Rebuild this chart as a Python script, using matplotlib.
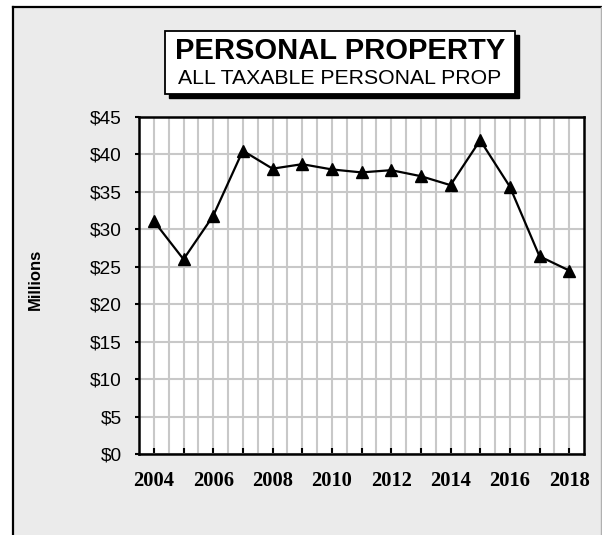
import matplotlib
matplotlib.use("Agg")
import matplotlib.pyplot as plt
from matplotlib.patches import Rectangle
from matplotlib.ticker import MultipleLocator, FuncFormatter

# données (millions de $)
years = [2004, 2005, 2006, 2007, 2008, 2009, 2010, 2011,
         2012, 2013, 2014, 2015, 2016, 2017, 2018]
values = [31.1, 26.0, 31.8, 40.5, 38.1, 38.7, 38.0, 37.6,
          37.9, 37.1, 35.9, 41.9, 35.7, 26.4, 24.5]
year_labels = [2004, 2006, 2008, 2010, 2012, 2014, 2016, 2018]

W, H = 602, 535
fig = plt.figure(figsize=(W / 100, H / 100), dpi=100)
fig.patch.set_facecolor('white')

# panneau gris avec bordure
fig.patches.append(Rectangle((12 / W, -0.01), (601 - 12) / W, 1 - 7 / H + 0.01,
                             transform=fig.transFigure, facecolor='#EBEBEB',
                             edgecolor='none', zorder=-2))
fig.lines.append(plt.Line2D([12.5 / W, 12.5 / W], [0, 1 - 7 / H], transform=fig.transFigure,
                            color='black', linewidth=1.6, zorder=-1))
fig.lines.append(plt.Line2D([12.5 / W, 601 / W], [1 - 7 / H, 1 - 7 / H], transform=fig.transFigure,
                            color='black', linewidth=1.6, zorder=-1))
fig.lines.append(plt.Line2D([601 / W, 601 / W], [0, 1 - 7 / H], transform=fig.transFigure,
                            color='#B0B0B0', linewidth=1, zorder=-1))

ax = fig.add_axes([139 / W, 1 - 454 / H, (584 - 139) / W, (454 - 117) / H])
ax.set_facecolor('white')

ax.plot(years, values, color='black', linewidth=1.6, marker='^',
        markersize=9, markerfacecolor='black', markeredgecolor='black',
        zorder=3, clip_on=False)

ax.set_xlim(2003.5, 2018.5)
ax.set_ylim(0, 45)
ax.yaxis.set_major_locator(MultipleLocator(5))
ax.yaxis.set_major_formatter(FuncFormatter(lambda v, p: f'${v:.0f}'))
ax.set_xticks(years)
ax.set_xticks([y + 0.5 for y in years[:-1]], minor=True)
ax.set_xticklabels([str(y) if y in year_labels else '' for y in years],
                   fontfamily='Liberation Serif', fontweight='bold', fontsize=14.8)
for lab in ax.get_yticklabels():
    lab.set_fontfamily('Liberation Sans')
    lab.set_fontsize(13.8)

ax.grid(True, which='both', axis='x', color='#C8C8C8', linewidth=1.5)
ax.grid(True, which='major', axis='y', color='#C8C8C8', linewidth=1.5)
ax.set_axisbelow(True)
ax.tick_params(axis='x', which='major', direction='in', length=4, width=1.5, pad=12)
ax.tick_params(axis='x', which='minor', length=0)
ax.tick_params(axis='y', direction='out', length=3, width=1.5, pad=9.5)
for s in ax.spines.values():
    s.set_linewidth(1.8)
    s.set_color('black')

fig.text(35 / W, 1 - 279 / H, 'Millions', rotation=90, ha='center', va='center',
         fontfamily='Liberation Sans', fontweight='bold', fontsize=12)

# encadré du titre avec ombre
bx0, by0, bx1, by1 = 165, 31, 515, 94
fig.patches.append(Rectangle(((bx0 + 4) / W, 1 - (by1 + 4) / H), (bx1 - bx0) / W, (by1 - by0) / H,
                             transform=fig.transFigure, facecolor='black', edgecolor='black',
                             zorder=5))
fig.patches.append(Rectangle((bx0 / W, 1 - by1 / H), (bx1 - bx0) / W, (by1 - by0) / H,
                             transform=fig.transFigure, facecolor='white', edgecolor='black',
                             linewidth=1.3, zorder=6))
fig.text((bx0 + bx1) / 2 / W, 1 - 51 / H, 'PERSONAL PROPERTY', ha='center', va='center',
         fontfamily='Liberation Sans', fontweight='bold', fontsize=21, zorder=7)
fig.text((bx0 + bx1) / 2 / W, 1 - 78 / H, 'ALL TAXABLE PERSONAL PROP', ha='center', va='center',
         fontfamily='Liberation Sans', fontsize=15.3, zorder=7)

fig.savefig('out.png', dpi=100)
